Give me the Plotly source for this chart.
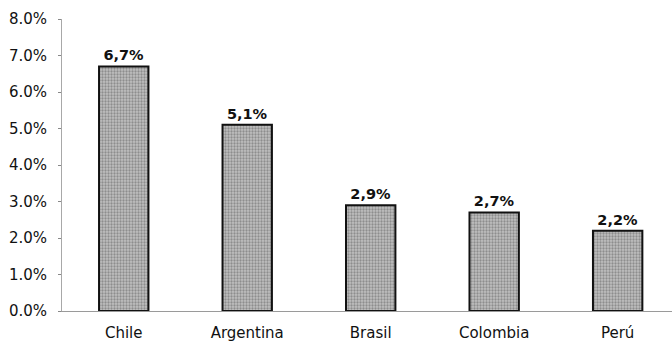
import plotly.graph_objects as go

# Country growth rates (%)
countries = ["Chile", "Argentina", "Brasil", "Colombia", "Perú"]
values = [6.7, 5.1, 2.9, 2.7, 2.2]
tick_vals = [0, 1, 2, 3, 4, 5, 6, 7, 8]
tick_text = ["0.0%", "1.0%", "2.0%", "3.0%", "4.0%", "5.0%", "6.0%", "7.0%", "8.0%"]

labels = [f"{v:.1f}".replace(".", ",") + "%" for v in values]

fig = go.Figure(
    go.Bar(
        x=countries,
        y=values,
        width=0.40,
        text=labels,
        textposition="outside",
        cliponaxis=False,
        textfont=dict(family="DejaVu Sans", size=14.5, color="#111111", weight="bold"),
        marker=dict(
            color="#aaaaaa",
            line=dict(color="#111111", width=2),
            pattern=dict(shape=".", fgcolor="#5a5a5a", bgcolor="#c0c0c0", size=3, solidity=0.45),
        ),
    )
)

fig.update_layout(
    width=672,
    height=342,
    margin=dict(l=62, r=0, t=19, b=31),
    paper_bgcolor="white",
    plot_bgcolor="white",
    showlegend=False,
    font=dict(family="DejaVu Sans", size=15, color="#111111"),
    xaxis=dict(
        range=[-0.5, 4.44],
        showgrid=False,
        showline=True,
        linecolor="#9a9a9a",
        linewidth=1,
        ticks="",
        ticklabelstandoff=8,
        tickfont=dict(family="DejaVu Sans", size=15),
    ),
    yaxis=dict(
        range=[0, 8],
        tickvals=tick_vals,
        ticktext=tick_text,
        showgrid=False,
        zeroline=False,
        showline=True,
        linecolor="#a8a8a8",
        linewidth=1,
        ticks="outside",
        ticklen=3,
        tickcolor="#888888",
        ticklabelstandoff=8,
        tickfont=dict(family="DejaVu Sans", size=15),
    ),
)

fig.write_html("out.html")
